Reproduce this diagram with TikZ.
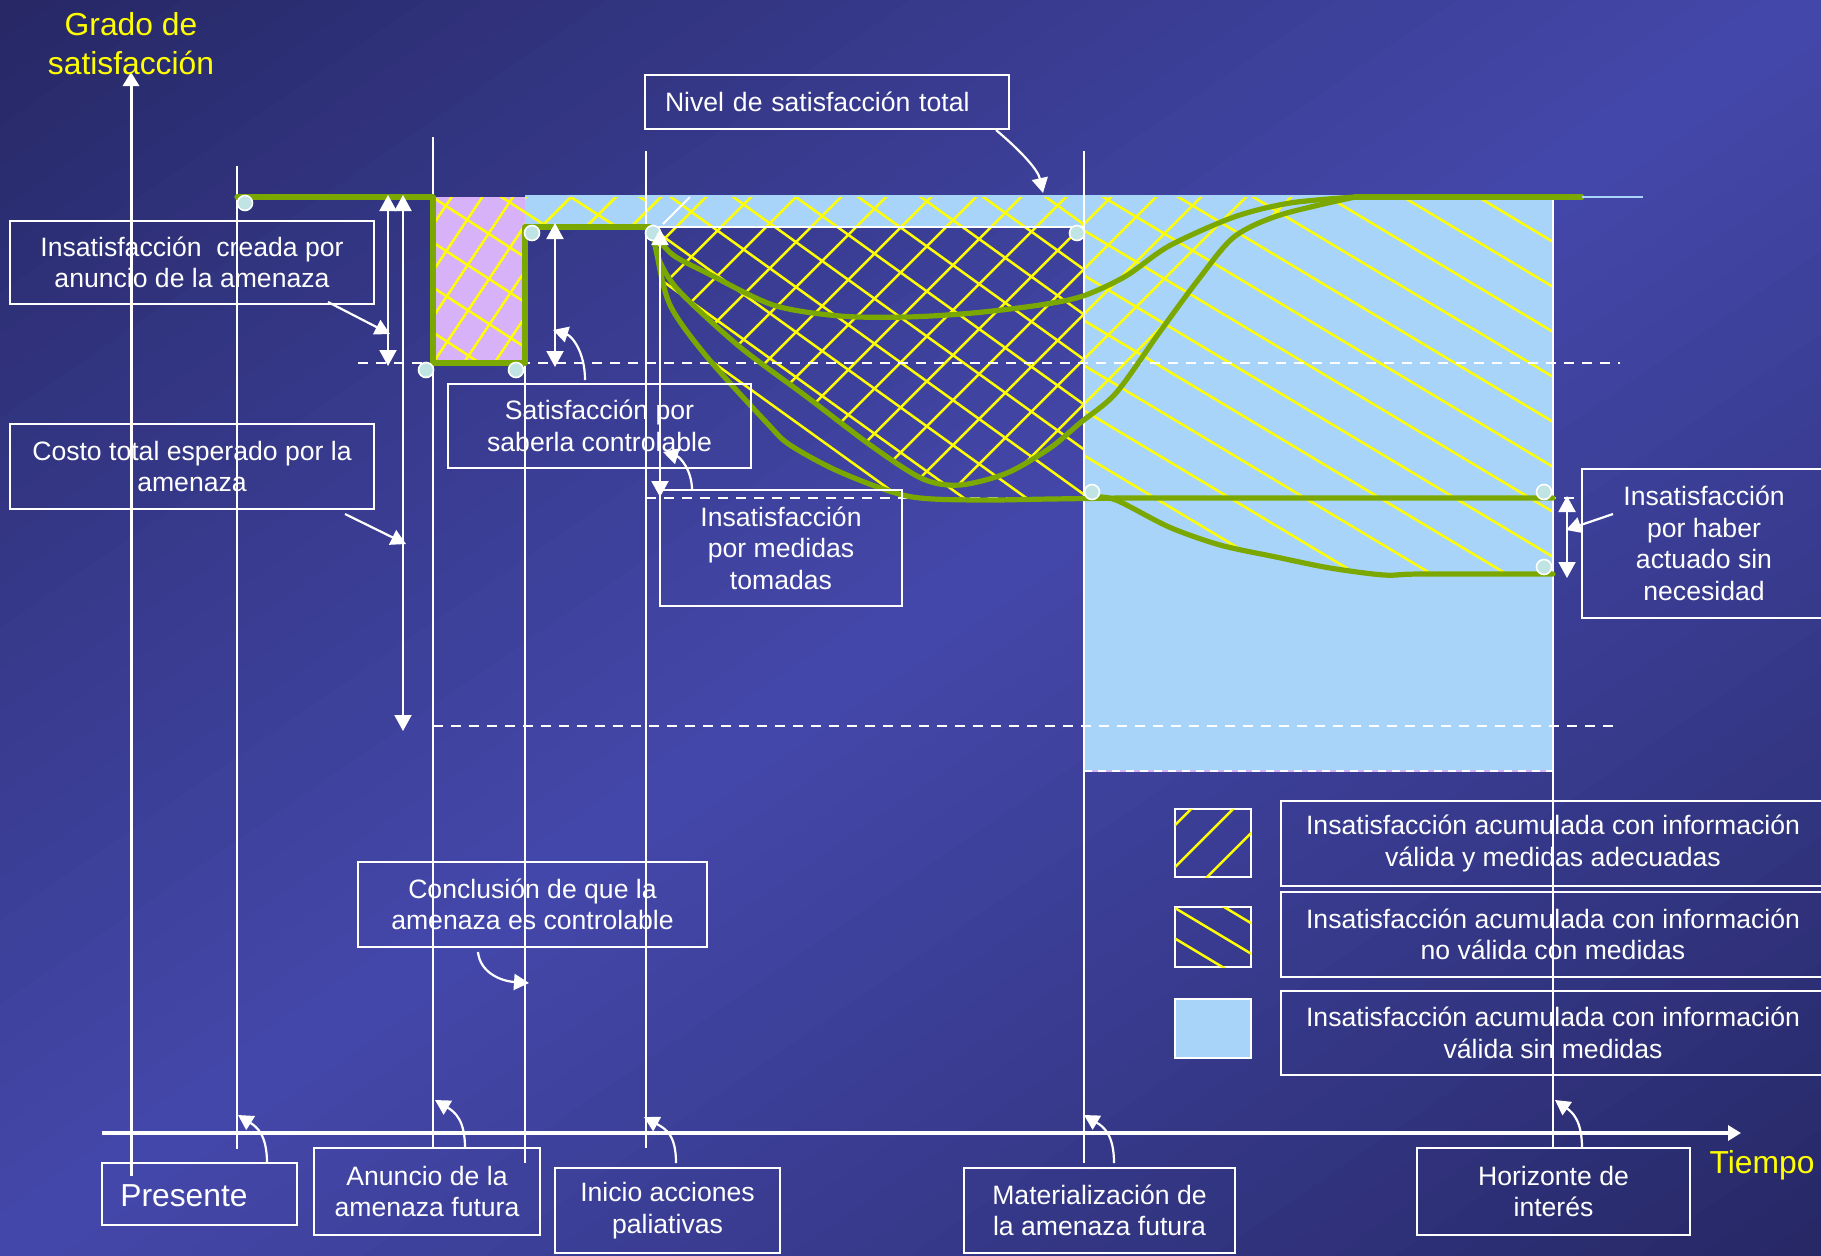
\documentclass[tikz,border=0pt]{standalone}
\usepackage{fontspec}
\setmainfont{Liberation Sans}
\usetikzlibrary{arrows.meta}
\definecolor{bgdark}{RGB}{38,39,100}
\definecolor{bgbright}{RGB}{68,72,170}
\definecolor{lblue}{RGB}{168,212,250}
\definecolor{lilac}{RGB}{216,178,248}
\definecolor{gr}{RGB}{122,168,0}
\definecolor{yel}{RGB}{255,255,0}
\definecolor{dotc}{RGB}{192,228,228}
\newcommand\fsmain{\fontsize{13.3pt}{15.8pt}\selectfont}
\newcommand\fsbig{\fontsize{15.9pt}{19.5pt}\selectfont}
\tikzset{
  box/.style={draw=white, line width=1.2pt, text=white, align=center, inner sep=0pt, font=\fsmain},
  ylab/.style={text=yel, align=center, inner sep=0pt, font=\fsbig},
  vline/.style={white, line width=1pt},
  dashline/.style={white, line width=1pt, dash pattern=on 5pt off 4pt},
  hatch/.style={yel, line width=1.25pt},
  gline/.style={gr, line width=2.6pt, line cap=round, line join=round},
  dot/.style={fill=dotc, draw=white, line width=0.8pt},
  dbl/.style={white, line width=1pt, {Triangle[width=8.5pt,length=8pt]}-{Triangle[width=8.5pt,length=8pt]}},
  callout/.style={white, line width=1.1pt, -{Triangle[width=8pt,length=7.5pt]}},
}
\begin{document}
\begin{tikzpicture}[x=0.5pt,y=-0.5pt]
\useasboundingbox (0,0) rectangle (1821,1255);
% background: diagonal gradient, dark corners top-left and bottom-right, bright along the other diagonal
\begin{scope}[x={(910.5pt,0pt)}, y={(0pt,-627.5pt)}]
\clip (0,0) rectangle (1,1);
\foreach \i in {0,...,59}{
  \pgfmathsetmacro\ta{\i/30}
  \pgfmathsetmacro\tb{(\i+1)/30+0.01}
  \pgfmathtruncatemacro\pp{100*(1-abs((\i+0.5)/30-1))^0.9}
  \fill[bgbright!\pp!bgdark] ({\ta+2},-2) -- ({\ta-2},2) -- ({\tb-2},2) -- ({\tb+2},-2) -- cycle;
}
\end{scope}

% fills
\fill[lblue] (525,195) -- (1553,195) -- (1553,771) -- (1084,771) -- (1084,226) -- (525,226) -- cycle;
\fill[lilac] (433,197) rectangle (525,363);
\draw[lilac, line width=1.2pt] (1084,771) -- (1553,771);
\draw[white, line width=1.2pt, dash pattern=on 4pt off 3pt] (1084,771) -- (1553,771);

% "/" hatching
\begin{scope}
\clip (433,197) -- (1355,197) -- plot[smooth] coordinates {(1355,197) (1280,215) (1234,237) (1198,280) (1159,333) (1116,393) (1080,423) (1050,448) (1007,473) (960,485) (923,479) (873,447) (807,397) (740,347) (680,292) (660,262) (653,233)} -- (646,227) -- (525,227) -- (525,363) -- (433,363) -- cycle;
\begin{scope}
\clip (0,0) rectangle (525,1255);
\foreach \k in {-6,...,4}{\pgfmathsetmacro\cc{1012.5+46*\k}
  \draw[hatch] (400,{\cc-1.5*400}) -- (560,{\cc-1.5*560});}
\end{scope}
\begin{scope}
\clip (525,0) rectangle (1821,1255);
\foreach \k in {12,...,42}{\pgfmathsetmacro\cc{3+45*\k}
  \draw[hatch] ({\cc-150},150) -- ({\cc-560},560);}
\end{scope}
\end{scope}

% "\" hatching
\begin{scope}
\clip (433,197) -- (1553,197) -- (1553,574) -- plot[smooth] coordinates {(1553,574) (1420,574) (1384,575) (1330,568) (1276,557) (1220,545) (1169,527) (1116,500) (1092,497)} -- plot[smooth] coordinates {(1092,498) (1050,499) (973,500) (907,496) (840,472) (790,445) (767,423) (707,357) (670,305) (656,250) (653,233)} -- (646,227) -- (525,227) -- (525,363) -- (433,363) -- cycle;
\begin{scope}
\clip (0,0) rectangle (645,1255);
\foreach \k in {-6,...,4}{\pgfmathsetmacro\bb{-39+45*\k}
  \draw[hatch] (400,{0.65*400+\bb}) -- (700,{0.65*700+\bb});}
\end{scope}
\begin{scope}
\clip (645,0) rectangle (1084,1255);
\foreach \k in {-12,...,5}{\pgfmathsetmacro\bb{-151+45*\k}
  \draw[hatch] (620,{0.72*620+\bb}) -- (1110,{0.72*1110+\bb});}
\end{scope}
\begin{scope}
\clip (1084,0) rectangle (1821,1255);
\foreach \k in {-3,...,16}{\pgfmathsetmacro\bb{-690+45*\k}
  \draw[hatch] (1060,{0.6*1060+\bb}) -- (1580,{0.6*1580+\bb});}
\end{scope}
\end{scope}

% dashed levels
\draw[dashline] (358,363) -- (1620,363);
\draw[dashline] (646,498) -- (1583,498);
\draw[dashline] (433,726) -- (1620,726);

% vertical time marks
\foreach \x/\a/\b in {237/166/1149, 433/137/1148, 525/227/1163, 646/151/1148, 1084/151/1163, 1553/195/1148}
  \draw[vline] (\x,\a) -- (\x,\b);
\draw[vline] (646,227) -- (1084,227);
\draw[vline] (690,197) -- (663,224);

% axes
\coordinate (ya0) at (131,1176); \coordinate (ya1) at (131,72);
\draw[white, line width=1.5pt, -{Triangle[width=8pt,length=7pt]}] (ya0) -- (ya1);
\coordinate (xa0) at (102,1133); \coordinate (xa1) at (1741,1133);
\draw[white, line width=2pt, -{Triangle[width=7.5pt,length=6.5pt]}] (xa0) -- (xa1);

% green curves
\draw[gline] (237,197) -- (433,197) -- (433,363) -- (525,363) -- (525,227) -- (650,227);
\draw[gline] (1355,197) -- (1582,197);
\draw[lblue, line width=1pt] (1582,197) -- (1643,197);
\draw[gline] plot[smooth] coordinates {(653,233) (673,255) (707,273) (773,305) (840,316) (907,317) (973,313) (1040,305) (1083,296) (1126,276) (1169,246) (1234,217) (1290,203) (1355,197)};
\draw[gline] plot[smooth] coordinates {(653,233) (660,262) (680,292) (740,347) (807,397) (873,447) (923,479) (960,485) (1007,473) (1050,448) (1080,423) (1116,393) (1159,333) (1198,280) (1234,237) (1280,215) (1355,197)};
\draw[gline] plot[smooth] coordinates {(653,233) (656,250) (670,305) (707,357) (767,423) (790,445) (840,472) (907,496) (973,500) (1050,499) (1120,498)} -- (1553,498);
\draw[gline] plot[smooth] coordinates {(1092,497) (1116,500) (1169,527) (1220,545) (1276,557) (1330,568) (1384,575) (1420,574) (1553,574)};

% dots
\foreach \p in {(245,203),(426,370),(516,370),(532,233),(653,233),(1077,233),(1092,492),(1544,492),(1544,567)}
  \draw[dot] \p circle (3.75pt);

% measurement arrows
\coordinate (d1a) at (388,195); \coordinate (d1b) at (388,366);
\draw[dbl] (d1a) -- (d1b);
\coordinate (d2a) at (403,195); \coordinate (d2b) at (403,731);
\draw[dbl] (d2a) -- (d2b);
\coordinate (d3a) at (555,223); \coordinate (d3b) at (555,367);
\draw[dbl] (d3a) -- (d3b);
\coordinate (d4a) at (660,229); \coordinate (d4b) at (660,497);
\draw[dbl] (d4a) -- (d4b);
\coordinate (d5a) at (1567,496); \coordinate (d5b) at (1567,578);
\draw[dbl] (d5a) -- (d5b);

% boxes
\node[box, minimum width=182pt, minimum height=41.5pt] (bcreada) at (192,262.5) {Insatisfacción\ \ creada por\\anuncio de la amenaza};
\node[box, minimum width=182pt, minimum height=42.5pt] (bcosto) at (192,466.5) {Costo total esperado por la\\amenaza};
\node[box, minimum width=151.5pt, minimum height=42pt] (bsat) at (599.5,426) {Satisfacción por\\saberla controlable};
\node[box, minimum width=182pt, minimum height=27pt, text width=162pt, align=left] (bnivel) at (827,102) {Nivel de satisfacción total};
\node[box, minimum width=121pt, minimum height=58pt] (bmed) at (781,548) {Insatisfacción\\por medidas\\tomadas};
\node[box, minimum width=122pt, minimum height=74.5pt] (bhaber) at (1704,543.5) {Insatisfacción\\por haber\\actuado sin\\necesidad};
\node[box, minimum width=174.5pt, minimum height=42.5pt] (bconcl) at (532.5,904.5) {Conclusión de que la\\amenaza es controlable};

% legend
\draw[white, line width=1.2pt] (1175,809) rectangle (1251,877);
\begin{scope}
\clip (1175,809) rectangle (1251,877);
\foreach \c in {2000,2042,2084} \draw[hatch] ({\c-780},780) -- ({\c-900},900);
\end{scope}
\draw[white, line width=1.2pt] (1175,907) rectangle (1251,967);
\begin{scope}
\clip (1175,907) rectangle (1251,967);
\foreach \b in {172.5,203,233.5} \draw[hatch] (1160,{0.6*1160+\b}) -- (1270,{0.6*1270+\b});
\end{scope}
\draw[white, line width=1.2pt, fill=lblue] (1175,999) rectangle (1251,1058);
\node[box, minimum width=272pt, minimum height=42.5pt] (leg1) at (1553,843.5) {Insatisfacción acumulada con información\\válida y medidas adecuadas};
\node[box, minimum width=272pt, minimum height=42.5pt] (leg2) at (1553,934.5) {Insatisfacción acumulada con información\\no válida con medidas};
\node[box, minimum width=272pt, minimum height=42pt] (leg3) at (1553,1033) {Insatisfacción acumulada con información\\válida sin medidas};

% bottom boxes
\node[box, minimum width=97.5pt, minimum height=31pt] (bpres) at (199.5,1194) {};
\node[text=white, font=\fsbig, inner sep=0pt] (tpres) at (184,1196) {Presente};
\node[box, minimum width=113pt, minimum height=43.5pt] (banun) at (427,1191.5) {Anuncio de la\\amenaza futura};
\node[box, minimum width=112.5pt, minimum height=42.5pt] (binic) at (667.5,1210.5) {Inicio acciones\\paliativas};
\node[box, minimum width=135.5pt, minimum height=42.5pt] (bmat) at (1099.5,1210.5) {Materialización de\\la amenaza futura};
\node[box, minimum width=136.5pt, minimum height=43.5pt] (bhor) at (1553.5,1191.5) {Horizonte de\\interés};

% labels
\node[ylab] (grado) at (131,43.5) {Grado de\\satisfacción};
\node[ylab] (tiempo) at (1762,1165) {Tiempo};

% callouts
\coordinate (c1a) at (328,302); \coordinate (c1b) at (390,334);
\draw[callout] (c1a) -- (c1b);
\coordinate (c2a) at (345,514); \coordinate (c2b) at (406,544);
\draw[callout] (c2a) -- (c2b);
\coordinate (c3a) at (585,380); \coordinate (c3b) at (553,330);
\draw[callout] (c3a) .. controls (585,352) and (572,336) .. (c3b);
\coordinate (c4a) at (692,490); \coordinate (c4b) at (663,452);
\draw[callout] (c4a) .. controls (692,470) and (680,457) .. (c4b);
\coordinate (c5a) at (996,130); \coordinate (c5b) at (1043,193);
\draw[callout] (c5a) .. controls (1022,152) and (1038,170) .. (c5b);
\coordinate (c6a) at (1613,514); \coordinate (c6b) at (1566,530);
\draw[callout] (c6a) -- (c6b);
\coordinate (c7a) at (478,952); \coordinate (c7b) at (529,983);
\draw[callout] (c7a) .. controls (480,972) and (500,981) .. (c7b);
\foreach \sx/\sy/\tx/\ty in {267/1163/238/1115, 465/1148/435/1100, 676/1163/644/1117, 1114/1163/1084/1115, 1582/1148/1555/1100}{
  \coordinate (s) at (\sx,\sy); \coordinate (t) at (\tx,\ty);
  \draw[callout] (s) .. controls (\sx,{\sy-28}) and ({\sx-10},{\ty+12}) .. (t);
}
\end{tikzpicture}
\end{document}
